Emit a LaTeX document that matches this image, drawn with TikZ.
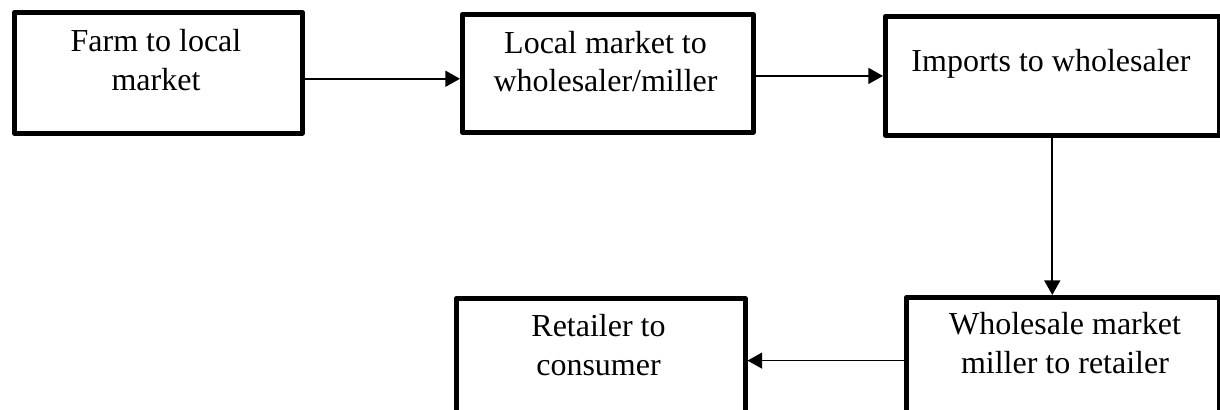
\documentclass[tikz,border=0pt]{standalone}
\usepackage{fontspec}
\setmainfont{Liberation Serif}
\usetikzlibrary{arrows.meta,positioning}

\tikzset{
	stage/.style={draw, line width=3.4pt, line join=round, anchor=north west, inner sep=0pt},
	stagetext/.style={align=center, font=\fontsize{24}{29}\selectfont, inner sep=0pt, anchor=base},
	flow/.style={-{Triangle[length=11pt,width=12pt]}, line width=1.2pt}
}

\begin{document}
\begin{tikzpicture}[x=0.75pt, y=-0.75pt]
	\useasboundingbox (0,0) rectangle (1220,410);
	
	% boxes
	\node[stage, minimum width=216pt, minimum height=90.75pt] (farm) at (12,10) {};
	\node[stage, minimum width=218.25pt, minimum height=88.5pt] (local) at (460,12) {};
	\node[stage, minimum width=250.5pt, minimum height=89.25pt] (imports) at (883,14) {};
	\node[stage, minimum width=234.75pt, minimum height=90pt] (wholesale) at (904,295) {};
	\node[stage, minimum width=216.75pt, minimum height=90pt] (retail) at (454,296) {};
	
	% texts (base = last line)
	\node[stagetext] (farmtxt) at (156,90) {Farm to local\\market};
	\node[stagetext] (localtxt) at (605.5,92) {Local market to\\wholesaler/miller};
	\node[stagetext] (importstxt) at (1051,72) {Imports to wholesaler};
	\node[stagetext] (wholesaletxt) at (1065,373) {Wholesale market\\miller to retailer};
	\node[stagetext] (retailtxt) at (598.5,375) {Retailer to\\consumer};
	
	% flow
	\draw[flow] ([yshift=-4.5pt]farm.east) -- ([yshift=-4.5pt]farm.east -| local.west);
	\draw[flow] ([yshift=-2pt]local.east) -- ([yshift=-2pt]local.east -| imports.west);
	\draw[flow] (imports.south) -- (imports.south |- wholesale.north);
	\draw[flow] ([yshift=-2.5pt]wholesale.west) -- ([yshift=-2.5pt]wholesale.west -| retail.east);
	
\end{tikzpicture}
\end{document}
